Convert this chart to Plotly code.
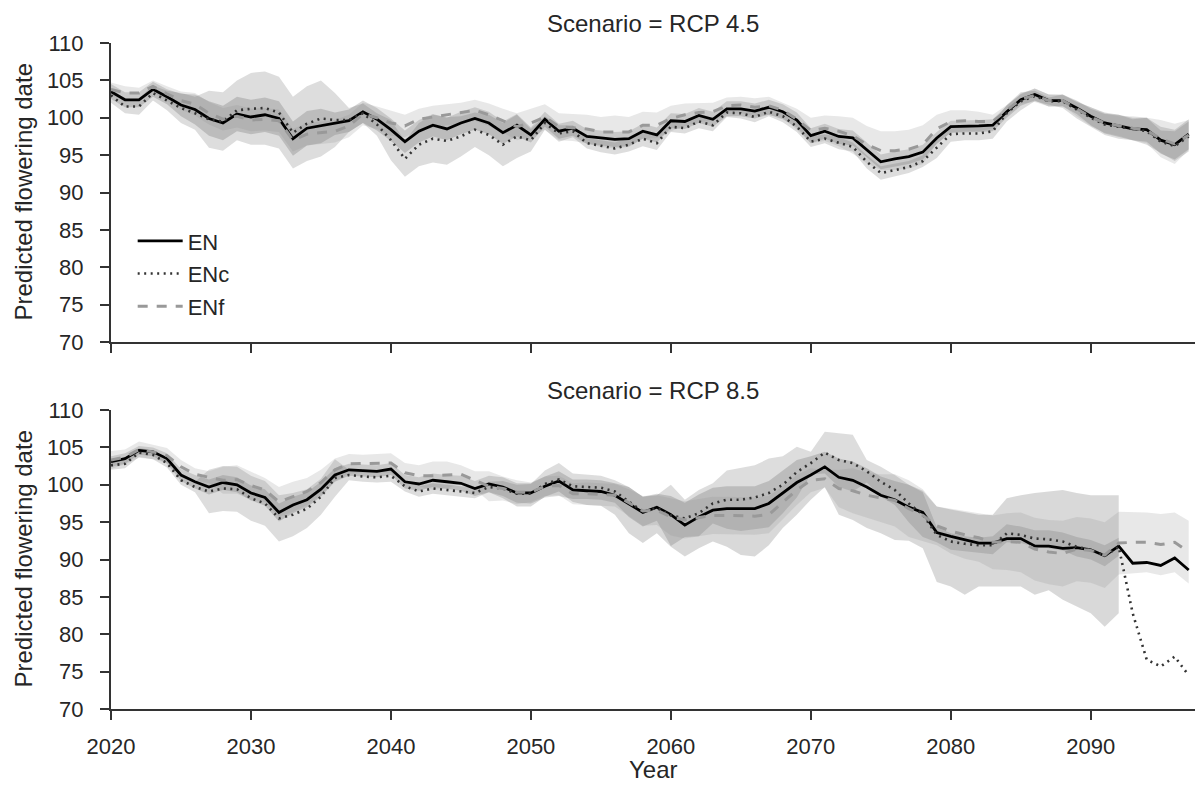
import plotly.graph_objects as go

# ---------------------------------------------------------------- data
years = list(range(2020, 2098))
x_ticks = [2020, 2030, 2040, 2050, 2060, 2070, 2080, 2090]
y_ticks = [70, 75, 80, 85, 90, 95, 100, 105, 110]
series_names = ["EN", "ENc", "ENf"]
scenarios = ["RCP 4.5", "RCP 8.5"]

# RCP 4.5 — mean predicted flowering date per year
en_45 = [103.5, 102.4, 102.4, 103.8, 102.8, 101.7, 101.1, 99.9, 99.3, 100.5,
         100.1, 100.4, 99.9, 97.2, 98.6, 98.9, 99.2, 99.6, 100.8, 99.8,
         98.4, 96.8, 98.2, 99.0, 98.5, 99.3, 99.9, 99.3, 98.0, 99.0,
         97.7, 99.8, 98.2, 98.6, 97.5, 97.3, 97.1, 97.2, 98.2, 97.7,
         99.6, 99.5, 100.3, 99.8, 101.2, 101.2, 100.9, 101.4, 100.8, 99.7,
         97.6, 98.2, 97.5, 97.3, 95.7, 94.1, 94.5, 94.8, 95.4, 97.3,
         98.8, 98.9, 98.9, 99.0, 100.8, 102.4, 103.1, 102.3, 102.3, 101.3,
         100.2, 99.3, 98.9, 98.5, 98.4, 97.0, 96.4, 97.8]
enc_45 = [103.0, 101.5, 101.5, 103.3, 102.3, 101.3, 100.6, 99.8, 99.5, 101.0,
          101.2, 101.3, 100.7, 98.0, 99.2, 99.9, 99.7, 99.7, 100.6, 99.1,
          97.0, 94.5, 96.4, 97.2, 96.9, 97.5, 98.4, 97.7, 96.4, 97.5,
          97.0, 99.3, 97.9, 98.2, 96.6, 96.2, 95.9, 96.4, 97.2, 96.6,
          98.8, 98.6, 99.5, 99.0, 100.7, 100.6, 100.1, 100.8, 100.2, 98.8,
          96.8, 97.2, 96.6, 96.1, 94.1, 92.6, 93.0, 93.4, 94.2, 96.0,
          97.8, 97.9, 97.9, 98.2, 100.6, 102.2, 102.9, 102.2, 102.2, 101.1,
          100.0, 99.1, 98.8, 98.4, 98.2, 96.8, 96.2, 97.5]
enf_45 = [103.8, 103.3, 103.3, 104.2, 103.2, 102.3, 101.8, 100.6, 99.8, 100.2,
          99.7, 99.8, 99.6, 97.0, 97.8, 98.0, 98.2, 98.9, 100.5, 100.0,
          99.3, 98.9, 99.8, 100.1, 100.4, 100.6, 101.0, 100.4, 99.6, 98.8,
          99.3, 100.1, 98.8, 98.7, 98.5, 98.1, 98.1, 98.1, 99.0, 99.0,
          99.9, 100.4, 100.7, 100.8, 101.6, 101.7, 101.4, 101.6, 101.0, 99.8,
          98.3, 98.6, 98.2, 97.6, 96.4, 95.6, 95.6, 95.8, 96.4, 98.5,
          99.5, 99.6, 99.5, 99.5, 101.0, 102.5, 103.0, 102.3, 102.3, 101.2,
          100.1, 99.3, 98.9, 98.6, 98.3, 97.2, 96.5, 97.7]

# RCP 4.5 — half-width of the uncertainty band
en_45_sd = [1.0, 1.0, 1.0, 1.0, 1.0, 1.5, 2.0, 2.3, 2.3, 2.3,
            2.3, 2.3, 2.3, 2.3, 2.3, 2.3, 1.5, 1.5, 1.5, 1.5,
            1.5, 1.5, 1.5, 1.5, 1.5, 1.5, 1.5, 1.5, 1.5, 1.5,
            1.0, 1.0, 1.0, 1.0, 1.0, 1.0, 1.0, 1.0, 1.0, 1.0,
            1.0, 1.0, 1.0, 1.0, 1.0, 1.0, 1.0, 1.0, 1.0, 1.0,
            1.0, 1.0, 1.0, 1.0, 1.0, 1.0, 1.0, 1.0, 1.0, 0.8,
            0.8, 0.8, 0.8, 0.8, 0.8, 0.8, 0.8, 0.8, 0.8, 0.8,
            1.2, 1.4, 1.5, 1.5, 1.6, 1.8, 2.0, 2.0]
enc_45_sd = [1.0, 0.9, 1.1, 1.0, 1.3, 2.0, 2.2, 3.8, 3.9, 4.0,
             4.8, 4.9, 4.8, 4.8, 5.0, 5.1, 3.6, 1.6, 1.3, 1.5,
             2.7, 2.4, 2.9, 3.2, 3.2, 2.7, 2.3, 2.7, 2.9, 2.9,
             1.5, 0.9, 1.1, 0.8, 0.7, 0.8, 0.8, 0.9, 1.0, 0.9,
             0.7, 0.7, 0.9, 0.8, 0.6, 0.7, 0.7, 0.6, 0.8, 0.7,
             0.7, 0.6, 0.8, 0.6, 0.9, 0.9, 0.9, 0.8, 0.8, 1.4,
             1.0, 0.9, 0.9, 1.0, 1.1, 1.2, 0.7, 0.5, 0.9, 1.2,
             1.2, 1.4, 1.6, 1.4, 1.8, 1.5, 2.0, 2.0]
enf_45_sd = [0.9, 0.9, 0.7, 0.8, 1.0, 1.2, 1.5, 1.5, 1.5, 1.5,
             1.5, 1.5, 1.5, 1.5, 1.5, 1.5, 1.5, 1.5, 1.5, 1.5,
             1.7, 1.5, 1.4, 1.5, 1.4, 1.4, 1.4, 1.5, 1.6, 1.8,
             1.9, 1.7, 1.8, 1.8, 1.9, 2.0, 2.2, 2.0, 1.8, 1.7,
             1.7, 1.5, 1.3, 1.2, 1.1, 1.1, 1.2, 1.2, 1.0, 1.4,
             1.7, 1.7, 2.0, 2.4, 2.5, 2.6, 2.6, 2.6, 2.6, 1.9,
             1.5, 1.4, 1.3, 0.9, 0.7, 0.6, 0.9, 0.8, 0.7, 1.0,
             1.2, 1.3, 1.3, 1.6, 1.7, 2.5, 2.7, 2.0]

# RCP 8.5 — mean predicted flowering date per year
en_85 = [103.1, 103.5, 104.6, 104.4, 103.5, 101.3, 100.4, 99.7, 100.3, 100.0,
         98.9, 98.3, 96.3, 97.3, 98.0, 99.4, 101.3, 102.0, 101.9, 101.8,
         102.1, 100.4, 100.1, 100.6, 100.4, 100.2, 99.5, 100.1, 99.7, 98.9,
         98.9, 99.8, 100.5, 99.3, 99.2, 99.1, 98.6, 97.4, 96.3, 97.0,
         96.0, 94.6, 95.7, 96.6, 96.8, 96.8, 96.8, 97.5, 98.9, 100.3,
         101.3, 102.4, 101.0, 100.6, 99.7, 98.6, 98.0, 97.0, 96.3, 93.6,
         93.1, 92.6, 92.2, 92.2, 92.8, 92.8, 91.8, 91.8, 91.5, 91.6,
         91.3, 90.5, 91.8, 89.5, 89.6, 89.2, 90.2, 88.6]
enc_85 = [102.6, 102.8, 104.3, 104.0, 102.9, 100.6, 99.7, 99.1, 99.5, 99.4,
          98.2, 97.5, 95.5, 96.0, 96.8, 98.4, 100.9, 101.3, 101.1, 101.0,
          101.2, 99.8, 99.1, 99.5, 99.3, 99.1, 98.9, 99.7, 99.5, 98.8,
          98.8, 100.1, 100.7, 99.8, 99.7, 99.6, 99.1, 97.7, 96.4, 96.9,
          95.9, 95.5, 96.2, 97.5, 98.0, 98.0, 98.3, 98.9, 100.0, 101.7,
          102.9, 104.3, 103.3, 102.9, 101.8, 100.4, 99.3, 97.5, 96.0, 93.3,
          92.4, 92.1, 91.9, 91.9, 93.5, 93.3, 92.8, 92.7, 92.4, 91.7,
          91.3, 90.5, 91.7, 82.8, 76.6, 75.7, 77.0, 74.5]
enf_85 = [103.3, 103.7, 104.7, 104.4, 103.9, 102.4, 101.4, 101.0, 100.6, 100.7,
          99.9, 99.3, 97.7, 98.4, 99.1, 100.3, 102.0, 102.8, 102.8, 102.9,
          102.9, 101.6, 101.2, 101.2, 101.3, 101.4, 100.6, 99.8, 99.5, 99.0,
          99.0, 99.8, 99.9, 98.8, 98.8, 98.7, 98.6, 97.6, 96.5, 96.6,
          95.7, 95.3, 95.6, 95.9, 95.9, 95.8, 95.8, 96.0, 97.6, 99.3,
          100.6, 100.8, 99.5, 99.2, 98.6, 98.2, 97.9, 96.8, 95.9, 94.5,
          93.8, 93.3, 92.9, 92.3, 92.4, 92.3, 91.4, 91.0, 90.8, 91.4,
          91.2, 90.6, 92.2, 92.3, 92.3, 92.0, 92.3, 91.0]

# RCP 8.5 — band extent below / above the mean (None: no band that year)
en_85_lo = [0.7, 0.7, 0.6, 0.6, 0.7, 0.8, 0.9, 1.0, 1.0, 1.0,
            1.0, 1.1, 1.2, 1.1, 1.0, 1.0, 0.9, 0.8, 0.8, 0.8,
            0.8, 0.9, 0.9, 0.9, 0.9, 1.0, 1.0, 1.1, 1.5, 1.8,
            1.8, 1.4, 1.4, 1.6, 1.9, 1.9, 2.6, 3.9, 4.1, 3.5,
            4.3, 4.2, 4.2, 4.2, 5.1, 6.2, 6.4, 5.6, 4.7, 4.3,
            3.3, 2.7, 5.0, 5.3, 5.5, 5.1, 5.4, 4.5, 4.8, 6.6,
            6.7, 7.3, 5.8, 5.8, 6.4, 6.4, 6.5, 5.9, 6.9, 7.9,
            8.5, 9.5, 9.0, None, None, None, None, None]
en_85_hi = [0.7, 0.7, 0.6, 0.6, 0.7, 0.8, 0.9, 1.0, 1.0, 1.0,
            1.0, 1.1, 1.2, 1.1, 1.0, 1.0, 0.9, 0.8, 0.8, 0.8,
            0.8, 0.9, 0.9, 0.9, 0.9, 1.0, 1.0, 1.1, 1.3, 1.3,
            1.3, 1.3, 1.3, 1.4, 1.5, 1.5, 1.6, 2.3, 2.1, 1.8,
            2.5, 3.0, 3.0, 3.0, 3.0, 3.0, 3.0, 3.0, 3.0, 3.0,
            2.5, 2.0, 2.5, 2.5, 2.5, 2.5, 2.5, 3.0, 2.9, 3.5,
            3.6, 3.8, 3.8, 3.8, 5.4, 5.8, 7.1, 7.3, 7.8, 7.3,
            7.3, 8.1, 6.8, None, None, None, None, None]
enc_85_sd = [0.6, 0.6, 0.6, 0.6, 0.6, 0.6, 0.7, 2.9, 3.0, 3.0,
             3.0, 3.0, 3.1, 2.9, 2.6, 2.4, 2.5, 0.7, 0.7, 0.7,
             0.8, 0.7, 0.7, 0.7, 0.7, 0.7, 0.7, 0.7, 1.0, 1.2,
             1.3, 1.8, 2.2, 1.7, 1.6, 1.6, 1.5, 2.0, 2.0, 1.7,
             4.1, 2.5, 3.1, 2.7, 3.9, 4.2, 4.3, 4.6, 3.8, 3.4,
             1.5, 2.8, 3.6, 3.8, 1.5, 2.0, 2.0, 2.5, 3.0, 1.0,
             1.1, 1.0, 1.0, 1.2, 1.2, 1.1, 1.1, 1.2, 1.2, 1.3,
             1.3, 1.4, 1.2, None, None, None, None, None]
enf_85_sd = [1.2, 1.0, 1.1, 1.0, 1.0, 0.9, 0.8, 0.8, 1.8, 1.9,
             1.9, 1.6, 2.0, 2.0, 1.8, 1.7, 1.5, 1.3, 1.2, 1.2,
             1.3, 1.3, 1.4, 1.9, 1.8, 1.2, 1.2, 2.0, 1.6, 1.6,
             1.3, 1.3, 1.3, 1.4, 1.5, 1.5, 1.5, 1.8, 2.0, 2.0,
             2.5, 2.5, 2.5, 2.5, 2.5, 2.5, 2.5, 2.5, 2.2, 2.0,
             1.6, 1.2, 2.5, 3.0, 3.0, 3.2, 3.5, 3.8, 3.5, 2.6,
             3.0, 3.2, 3.2, 3.6, 3.8, 4.0, 4.2, 4.3, 4.4, 4.3,
             4.3, 4.4, 4.2, 4.1, 4.0, 4.1, 4.0, 4.2]

panels = [
    # (series means, band below, band above) per series, one list per scenario
    [(en_45, en_45_sd, en_45_sd), (enc_45, enc_45_sd, enc_45_sd), (enf_45, enf_45_sd, enf_45_sd)],
    [(en_85, en_85_lo, en_85_hi), (enc_85, enc_85_sd, enc_85_sd), (enf_85, enf_85_sd, enf_85_sd)],
]

# ---------------------------------------------------------------- styles
TEXT = "#262626"
AXIS = "#333333"
FONT = "Liberation Sans, Arial, sans-serif"
line_styles = {
    "EN": dict(color="#000000", width=2.8, dash="solid"),
    "ENc": dict(color="#333333", width=2.6, dash="2px,4.5px"),
    "ENf": dict(color="#999999", width=3.0, dash="10px,9px"),
}
band_colors = {
    "EN": "rgba(0,0,0,0.15)",
    "ENc": "rgba(30,30,30,0.15)",
    "ENf": "rgba(140,140,140,0.2)",
}


def band_polygon(mean, below, above):
    xs, lows, highs = [], [], []
    for yr, m, b, a in zip(years, mean, below, above):
        if b is None or a is None:
            continue
        xs.append(yr)
        lows.append(m - b)
        highs.append(m + a)
    return xs + xs[::-1], highs + lows[::-1]


fig = go.Figure()
for p, panel in enumerate(panels):
    xa = "x" if p == 0 else "x2"
    ya = "y" if p == 0 else "y2"
    for name, (mean, below, above) in zip(series_names, panel):
        bx, by = band_polygon(mean, below, above)
        fig.add_trace(go.Scatter(
            x=bx, y=by, xaxis=xa, yaxis=ya, mode="lines", fill="toself",
            fillcolor=band_colors[name], line=dict(width=0), hoverinfo="skip",
            showlegend=False))
    for name, (mean, below, above) in zip(series_names, panel):
        fig.add_trace(go.Scatter(
            x=years, y=mean, xaxis=xa, yaxis=ya, mode="lines", name=name,
            line=line_styles[name], showlegend=(p == 0), legendgroup=name))

# ---------------------------------------------------------------- layout
W, H = 1195, 785
ML, MR, MT, MB = 111, 0, 43, 76
plot_h = H - MT - MB
top_dom = [(H - MB - 342) / plot_h, 1.0]
bot_dom = [0.0, (H - MB - 410) / plot_h]

axis_common = dict(
    showline=True, linecolor=AXIS, linewidth=2, mirror=False,
    ticks="outside", ticklen=9, tickwidth=2, tickcolor=AXIS,
    showgrid=False, zeroline=False,
    tickfont=dict(size=22, color=TEXT, family=FONT),
)
x_common = dict(axis_common, range=[2020, 2097.45], tickvals=x_ticks,
                ticklabelstandoff=8)
y_common = dict(axis_common, range=[70, 110], tickvals=y_ticks,
                ticklabelstandoff=12)

fig.update_layout(
    width=W, height=H,
    margin=dict(l=ML, r=MR, t=MT, b=MB),
    paper_bgcolor="white", plot_bgcolor="white",
    font=dict(family=FONT, color=TEXT, size=22),
    xaxis=dict(x_common, domain=[0, 1], anchor="y", showticklabels=False),
    yaxis=dict(y_common, domain=top_dom, anchor="x"),
    xaxis2=dict(x_common, domain=[0, 1], anchor="y2"),
    yaxis2=dict(y_common, domain=bot_dom, anchor="x2"),
    legend=dict(x=0.02, y=0.734, xanchor="left", yanchor="top",
                bgcolor="rgba(0,0,0,0)", font=dict(size=22, color=TEXT),
                itemwidth=45, tracegroupgap=1),
    showlegend=True,
)

annotations = []
for dom, scen in zip([top_dom, bot_dom], scenarios):
    annotations.append(dict(
        text=f"Scenario = {scen}", xref="paper", yref="paper", x=0.5, y=dom[1],
        yshift=20, xanchor="center", yanchor="middle", showarrow=False,
        font=dict(size=24, color=TEXT)))
    annotations.append(dict(
        text="Predicted flowering date", xref="paper", yref="paper", x=0,
        y=(dom[0] + dom[1]) / 2, xshift=-88, xanchor="center", yanchor="middle",
        textangle=-90, showarrow=False, font=dict(size=24, color=TEXT)))
annotations.append(dict(
    text="Year", xref="paper", yref="paper", x=0.5, y=0, yshift=-60,
    xanchor="center", yanchor="middle", showarrow=False,
    font=dict(size=24, color=TEXT)))
fig.update_layout(annotations=annotations)

fig.write_html("out.html")
